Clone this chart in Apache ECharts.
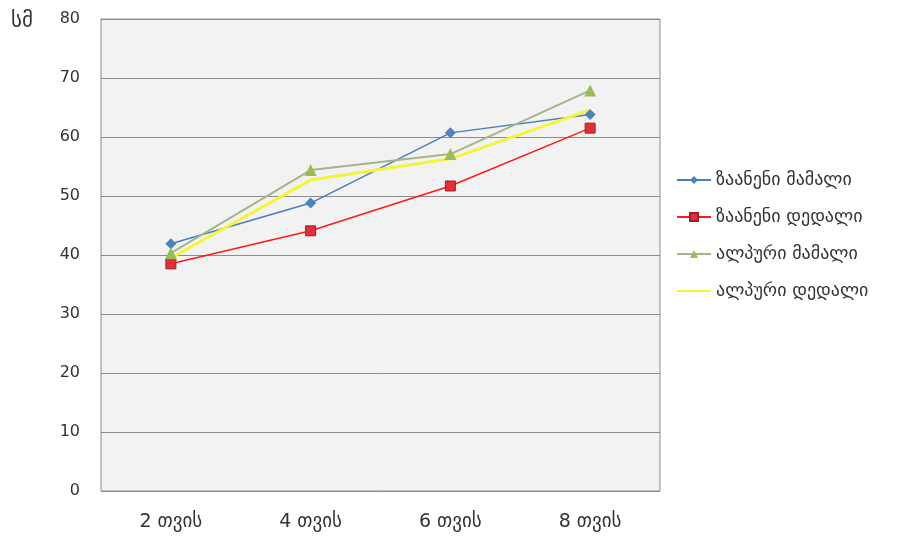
<!DOCTYPE html>
<html><head><meta charset="utf-8">
<script src="https://cdn.jsdelivr.net/npm/echarts@6/dist/echarts.min.js"></script>
<style>html,body{margin:0;padding:0;background:#fff}#c{width:908px;height:540px}</style>
</head><body><div id="c"></div>
<script>
var categories = ['2 თვის', '4 თვის', '6 თვის', '8 თვის'];
var seriesNames = ['ზაანენი მამალი', 'ზაანენი დედალი', 'ალპური მამალი', 'ალპური დედალი'];
var zaaneniMale = [41.9, 48.8, 60.7, 63.8];
var zaaneniFemale = [38.5, 44.1, 51.7, 61.5];
var alpineMale = [40.3, 54.4, 57.1, 67.9];
var alpineFemale = [39.5, 52.7, 56.3, 64.6];
var yTicks = {min: 0, max: 80, interval: 10};
var unitLabel = 'სმ';

var font = 'DejaVu Sans';
var chart = echarts.init(document.getElementById('c'));
chart.setOption({
  animation: false,
  backgroundColor: '#fff',
  grid: {left: 101, top: 19, width: 559, height: 472, show: true, backgroundColor: '#f2f2f2', borderColor: '#8c8c8c', borderWidth: 1},
  graphic: [{type: 'text', left: 11, top: 11, style: {text: unitLabel, font: '21px "DejaVu Sans"', fill: '#333'}}],
  legend: {
    orient: 'vertical', left: 671, top: 166, itemGap: 19, itemWidth: 34, itemHeight: 10,
    textStyle: {fontFamily: font, fontSize: 18, color: '#333'},
    data: [seriesNames[0], seriesNames[1], seriesNames[2], {name: seriesNames[3], itemStyle: {opacity: 0}}]
  },
  xAxis: {
    type: 'category', data: categories, boundaryGap: true,
    axisLine: {show: false}, axisTick: {show: false},
    axisLabel: {fontFamily: font, fontSize: 19, color: '#333', margin: 22}
  },
  yAxis: {
    type: 'value', min: yTicks.min, max: yTicks.max, interval: yTicks.interval,
    axisLine: {show: false}, axisTick: {show: false},
    axisLabel: {fontFamily: font, fontSize: 16, color: '#333', margin: 21},
    splitLine: {lineStyle: {color: '#8c8c8c', width: 1}}
  },
  series: [
    {name: seriesNames[0], type: 'line', data: zaaneniMale, symbol: 'diamond', symbolSize: 11,
     lineStyle: {color: '#4a7ebb', width: 1.5}, itemStyle: {color: '#4f81bd'}},
    {name: seriesNames[1], type: 'line', data: zaaneniFemale, symbol: 'rect', symbolSize: 10,
     lineStyle: {color: '#ff1a1a', width: 1.5}, itemStyle: {color: '#e03038', borderColor: '#a0202a', borderWidth: 1}},
    {name: seriesNames[2], type: 'line', data: alpineMale, symbol: 'triangle', symbolSize: 12,
     lineStyle: {color: '#a4b58a', width: 2}, itemStyle: {color: '#9bbb59'}},
    {name: seriesNames[3], type: 'line', data: alpineFemale, symbol: 'none',
     lineStyle: {color: '#f4f43a', width: 3}, itemStyle: {color: '#f4f43a'}}
  ]
});
</script></body></html>
